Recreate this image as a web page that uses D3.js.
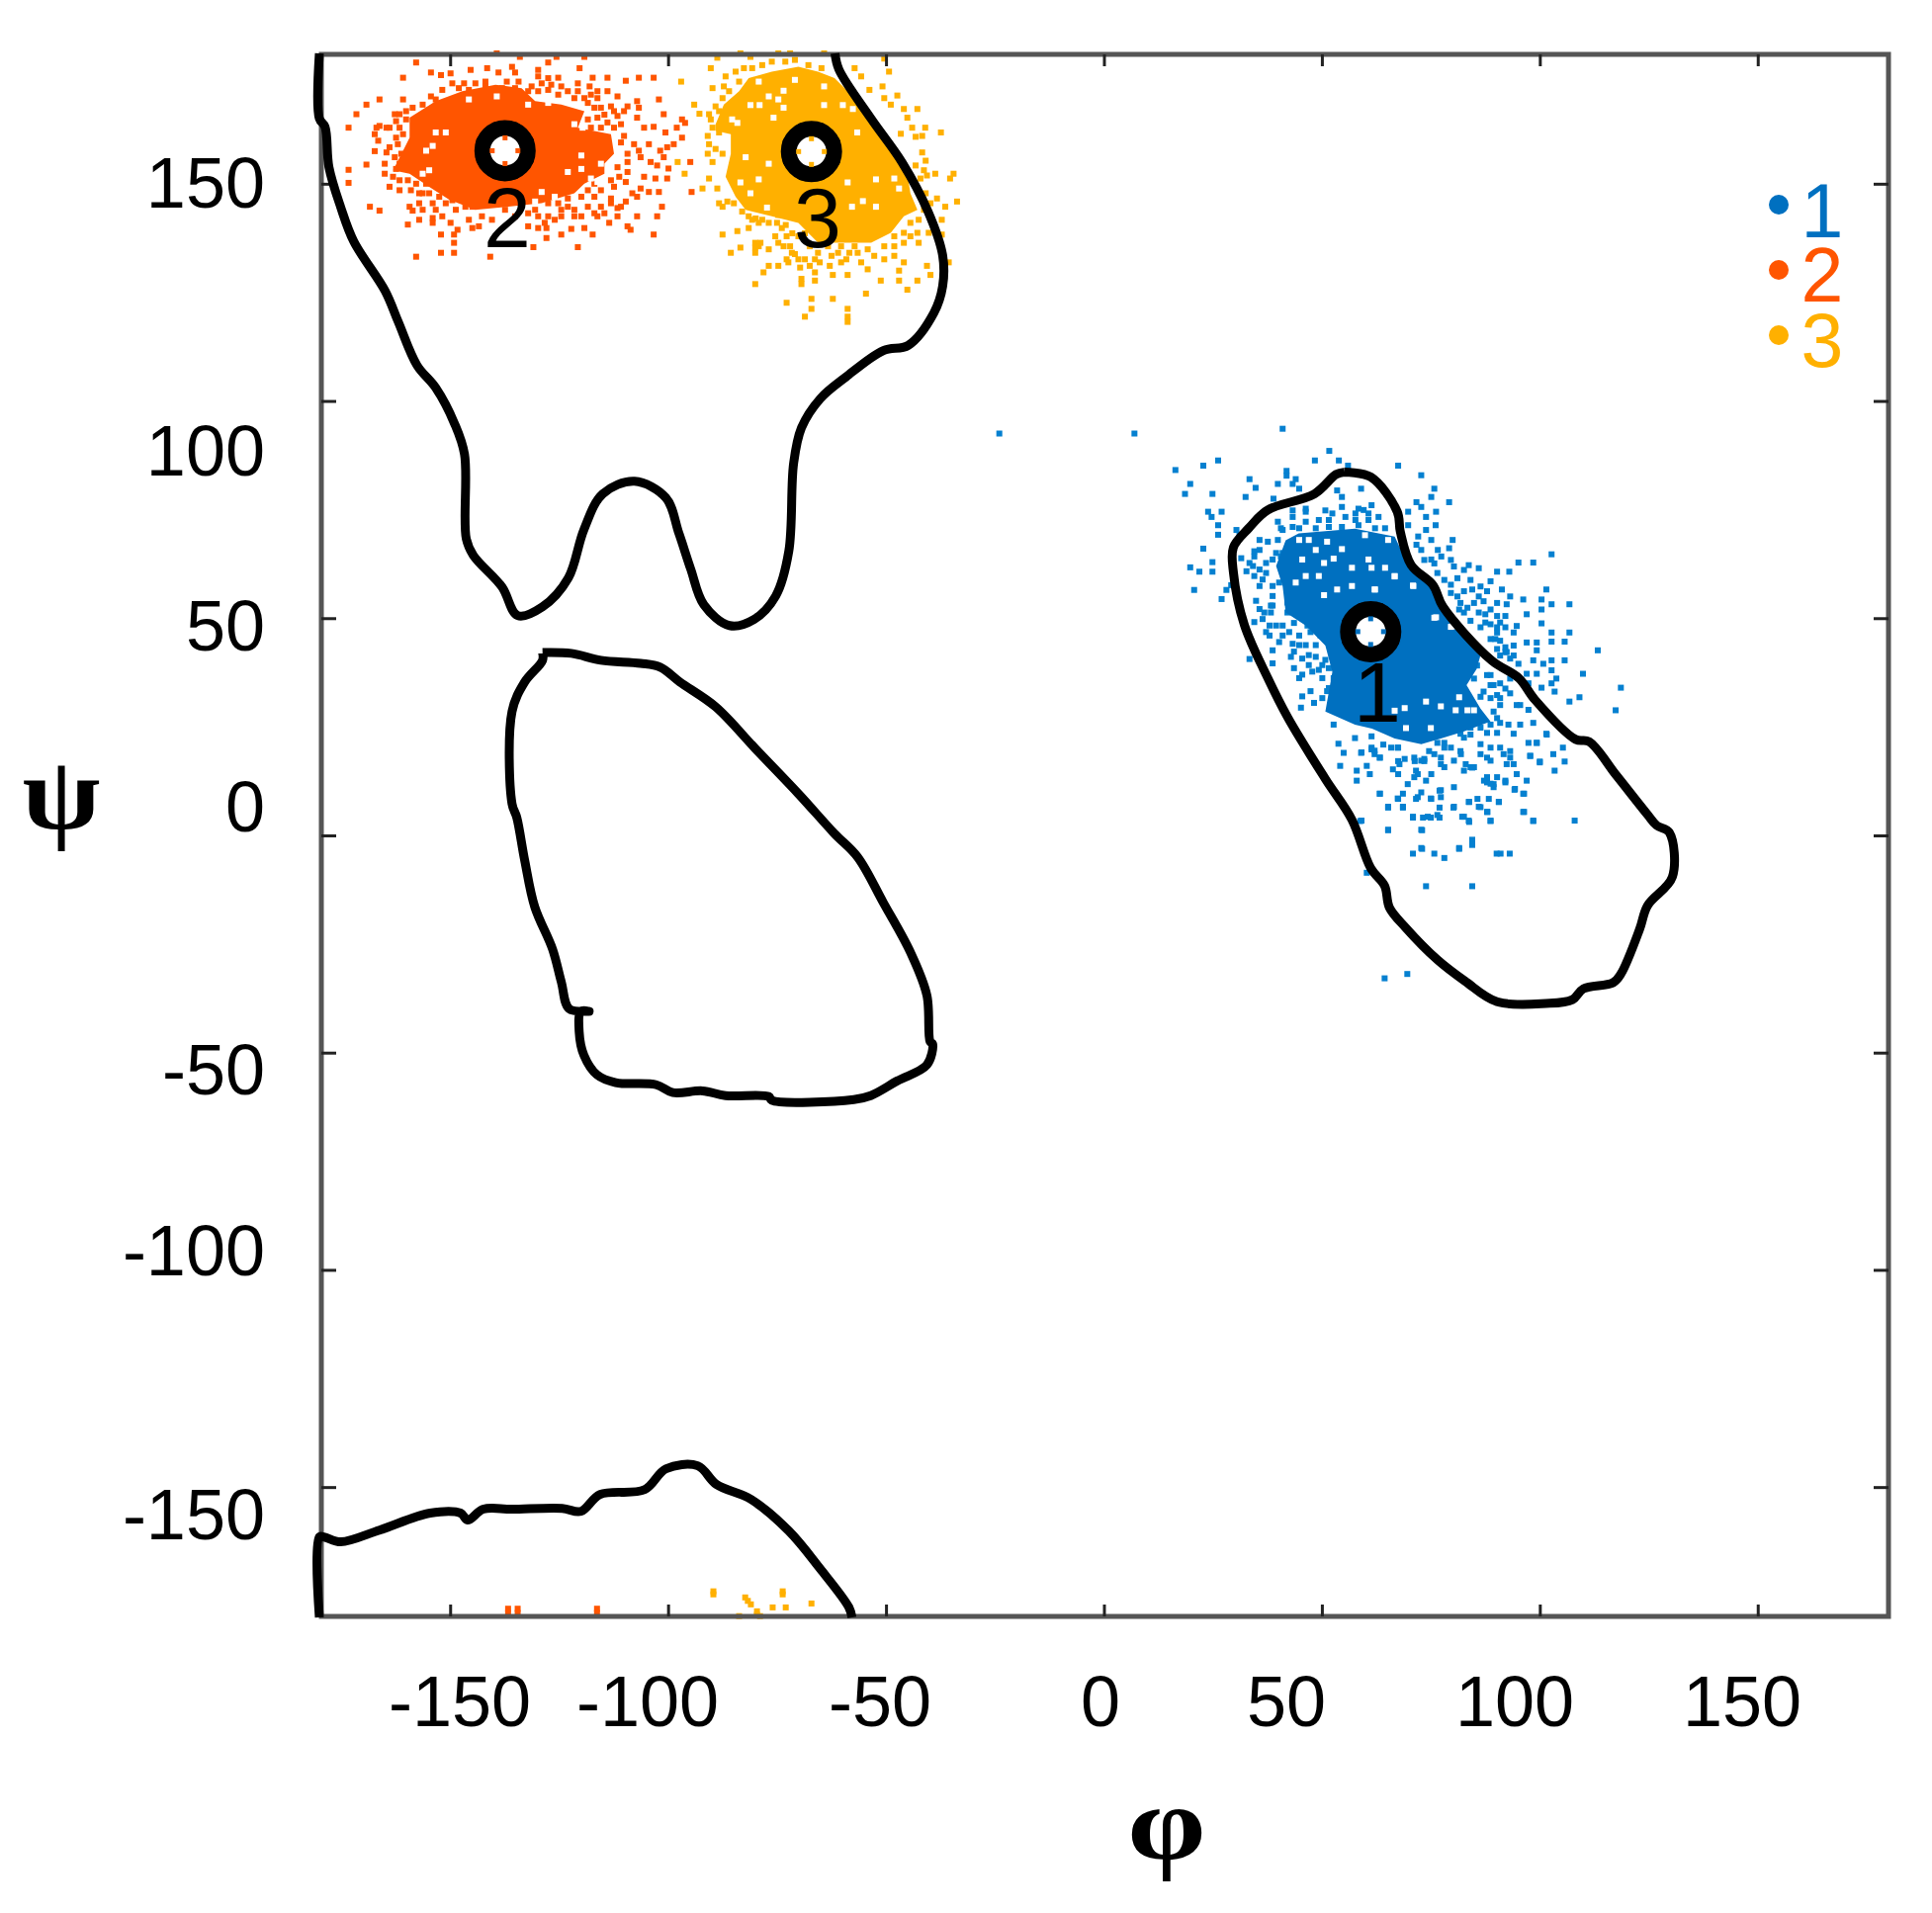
<!DOCTYPE html>
<html>
<head>
<meta charset="utf-8">
<script src="https://cdn.jsdelivr.net/npm/d3@7"></script>
<style>
  html, body { margin: 0; background: #fff; }
  svg { display: block; filter: blur(0.6px); }
  text { font-family: "Liberation Sans", Arial, sans-serif; }
</style>
</head>
<body>
<div id="chart"></div>
<script>
// Ramachandran values, all in degrees as [phi, psi]
var xTicks = [-150, -100, -50, 0, 50, 100, 150];
var yTicks = [-150, -100, -50, 0, 50, 100, 150];
var clusterNames = ['1', '2', '3'];
var clusterColors = ['#0070c0', '#ff5500', '#ffb000'];
var pointColors = ['#0580d0', '#ff5500', '#ffb000'];
var centrePhi = [61.2, -137.4, -67.1];
var centrePsi = [46.9, 157.6, 157.4];

var contourUpper = [[-180,180],[-180,165],[-178.7,163.1],[-177.8,153.8],[-175.1,144.6],[-172.1,136.7],[-164.9,125.3],[-161.9,118.2],[-157.6,108.2],[-153.3,103],[-149,94.8],[-146.7,87.7],[-146.3,68.3],[-144.7,64.5],[-138.1,57.2],[-134.5,50.6],[-128.8,52.6],[-122.9,59.2],[-119.3,70.4],[-115,78.6],[-107.7,81.5],[-100.5,77.7],[-97.5,69.5],[-94.8,61.3],[-91.8,53.1],[-85.9,48.3],[-80.3,49.7],[-75.3,55.1],[-72.3,65.4],[-71.2,85.6],[-69.4,93.8],[-65.1,100.5],[-59.2,105.5],[-50.6,111.6],[-44.9,112.8],[-39,120.3],[-37,126.4],[-37,133.5],[-40.4,143.7],[-46.3,154.9],[-53.5,165.1],[-60.8,176.3],[-61.7,180]];
var contourMiddle = [[-128.8,42.1],[-122.2,41.9],[-115.4,40.3],[-106.3,39.6],[-101.8,38.7],[-97.3,35.3],[-89.1,29.6],[-80,20],[-70.1,9.6],[-61.9,0.5],[-56.5,-5],[-50.6,-15.5],[-44.4,-26.9],[-40.6,-36.9],[-39.9,-47.4],[-39.3,-48],[-40.6,-52.8],[-47.4,-56.5],[-53.5,-59.9],[-57.4,-60.8],[-76.2,-61],[-76.9,-60.1],[-86.8,-59.9],[-92.1,-58.8],[-98.9,-59.2],[-102.7,-57.4],[-112,-56.9],[-116.3,-55.1],[-119.3,-50.6],[-120.4,-45.1],[-120,-40.5],[-118.1,-40.5],[-122.7,-39.9],[-124.5,-33.7],[-126.5,-26.2],[-130.6,-16.4],[-132.9,-5.7],[-134.7,4.1],[-135.8,7.3],[-135.8,28.5],[-132.9,35.3],[-128.8,40.3],[-128.8,42.1]];
var contourLower = [[-180,-180],[-180,-161.5],[-178.9,-161.5],[-175.1,-162.6],[-166.2,-159.9],[-154.6,-156],[-147.6,-156],[-146,-157.6],[-142.4,-155.1],[-135.8,-155.1],[-124.3,-154.9],[-120,-155.6],[-115.6,-151.7],[-105.4,-150.6],[-100.5,-145.8],[-93.2,-145.1],[-88.9,-149.4],[-81,-152.8],[-72.3,-160.1],[-65.1,-168.8],[-58.5,-177.7],[-57.8,-180]];
var contourRight = [[55.1,83.6],[61.2,82.5],[67.3,74.5],[68,69.9],[70.5,62.2],[75.5,57.6],[77.8,52.6],[88.9,40.3],[95.2,36.2],[98.9,31.2],[108.2,22.1],[111.3,21.6],[117.5,13.9],[124.7,4.8],[126.8,2.3],[129.7,0.7],[130.4,-9.6],[124.7,-16.2],[122.9,-21.6],[118.6,-31.9],[116.8,-33.9],[110,-35.3],[107.5,-37.8],[101.4,-38.7],[90.2,-38.3],[82.8,-33.5],[76.6,-28.7],[69.2,-21.2],[65.5,-16.6],[64.4,-11.6],[61.2,-7.5],[56.9,3.6],[50.8,13],[42.2,27.1],[37.6,36.2],[32.2,48.5],[29.7,60.6],[29.7,66.3],[33.3,70.8],[37.6,74.9],[48.3,78.6],[53.3,83.1],[55.1,83.6]];

// solid parts of the clusters, too dense to read single points from
var coreBlue = [[41.7,67.9],[44.7,69.5],[57.6,70.6],[66.7,68.8],[68.9,64.2],[75.1,57.4],[80.3,49.7],[86.4,41.5],[85.5,38.3],[83.2,34.6],[86.4,29.2],[88.7,26.2],[82.5,23.9],[77.3,22.3],[72.8,21],[66.7,22.3],[61.5,24.6],[57.6,25.5],[50.8,28.5],[52.4,37.6],[50.8,43.7],[46.3,48.3],[41.7,51.3],[41,57.4],[39.5,62]];
var coreRed = [[-159.3,165.2],[-153.3,169],[-147.2,171.3],[-139.6,172.8],[-133.6,172],[-130.5,169],[-124.5,168.2],[-119.2,166.7],[-120.7,162.9],[-113.1,161.4],[-112.4,156.9],[-114.6,154.6],[-114.6,152.3],[-119.2,150],[-121.5,147.8],[-129,145.5],[-136.6,144.7],[-144.2,144],[-150.2,146.3],[-154.8,149.3],[-159.3,152.3],[-163.1,153.1],[-160.8,157.6],[-159.3,160.6]];
var coreYellow = [[-89.1,163.7],[-87.2,168.2],[-83.7,171.3],[-81.5,174.3],[-76.2,175.8],[-70.1,176.9],[-65.6,175.8],[-61.8,174.3],[-58,170.5],[-53.4,166],[-48.9,159.9],[-45.1,152.3],[-44.4,147.8],[-42.8,144],[-45.9,142.5],[-48.9,138.7],[-53.4,136.4],[-59.5,136.4],[-65.6,136.4],[-70.1,141],[-76.2,142.5],[-82.2,144],[-84.5,147],[-86.8,151.6],[-85.6,156.9],[-85.6,161.4],[-89.1,162.2]];

// white specks inside the solid parts
var gapsBlue = [[66.7,59.6],[70.9,57.5],[62.1,56.6],[75.8,50.1],[79.9,48.1],[73.9,30.8],[81.5,31.8],[77.3,29.7],[80.7,28.8],[83.4,28.8],[84.9,28.8],[69.3,24.7],[75,24.7],[69,29.3],[66.7,28.7],[49.3,59.7],[56.9,57.4],[62.2,56.6],[71,57.4],[50.5,55.3],[53.5,56.6],[46.3,59.7],[44,58.2],[48.6,65.7],[54.6,65.9],[60.7,63.5],[56.9,61.6],[61.4,61.6],[64.5,61.6],[66.7,59.7],[52.7,63.7],[45.5,63.5],[50.5,62.7],[44.8,68],[47,68],[51.2,67.6],[59.9,69.1],[65.2,68],[76.2,50.2],[79.6,48]];
var gapsRed = [[-145.7,169.4],[-139.3,170.1],[-153.3,161.8],[-151,161.8],[-155.5,157.6],[-154,158.7],[-119.9,156.5],[-123,152.7],[-119.9,153.4],[-115.4,154.6],[-129,148.1],[-126,147],[-130.5,145.9],[-154.8,153.1],[-156.3,152.3],[-132.1,168.2],[-129,169.7],[-127.5,168.6],[-117.7,151.2],[-116.2,150.4],[-121.5,163.7],[-119.6,162.9]];
var gapsYellow = [[-75.8,165.2],[-73.5,167.5],[-81.1,168.1],[-79,168.1],[-76.9,170.1],[-74.7,169.4],[-73.5,171.4],[-79.2,173.5],[-70.9,173.9],[-64.2,172.4],[-64.2,168.1],[-59.9,168.1],[-57.6,167.2],[-56.6,161.8],[-82.2,156.1],[-76.9,154.6],[-79.2,151],[-83.4,150.3],[-81.1,147.8],[-58.8,150.3],[-52.3,151],[-48.1,151.2],[-47,148.9],[-55.3,146],[-57.8,144.7],[-52.3,144.7],[-77.3,144.5],[-84.1,164],[-85.3,164.8]];

var pointsBlue = [[-24,92.5],[7,92.5],[41,93.6],[16.4,84.1],[22.8,85.1],[26.2,86.3],[19.8,80.9],[18.6,78.6],[24.9,78.6],[33.4,82],[34.8,80],[32.5,77.9],[41.9,83.9],[41.9,82.8],[39.9,80.9],[44,82],[43.3,80.9],[44.8,79.8],[48.4,86.3],[51.7,88.5],[53.9,86.3],[56,85.1],[38.9,77.5],[23.9,74.5],[24.7,73.3],[27,74.5],[26.2,71.4],[26.2,69.2],[30.4,70.3],[31.1,69.2],[22.8,66],[24.9,62.9],[24.9,60.7],[19.8,61.7],[21.9,60.7],[20.7,56.5],[27,54.4],[28.1,56.5],[29.2,57.6],[33.4,40.6],[67.5,85.1],[72.8,82.9],[75.8,79.8],[75.1,77.9],[71.7,76.7],[72.8,75.6],[79.2,76.7],[76.2,74.5],[73.9,73.3],[69.8,74.5],[69.8,71.4],[76.1,71.4],[73.9,70.3],[72.1,68.8],[75.1,68],[80,68],[71.7,66.9],[72.8,65.7],[76.6,65.7],[79.2,66.1],[77.4,64.2],[75.1,63.5],
[46.3,75.2],[50.8,74.8],[53.5,79.4],[54.6,77.9],[59,79.8],[54.6,75.6],[58.4,75.2],[61.4,76],[60.7,74.1],[63,73.3],[43.3,73.3],[46.3,72.2],[49.3,72.6],[51.6,72.6],[55.4,73.3],[57.7,72.6],[39.9,72.2],[41,70.3],[43.3,71],[51.6,71],[35.7,68],[37.6,67.6],[39.9,68],[34.5,65.4],[34.5,64.2],[39.5,65],[41,65],[31.5,63.8],[32.7,60.8],[33.4,62.7],[35.7,61.2],[34.5,59.7],[37.2,60.4],[38.7,57.4],[40.2,58.2],[35.7,57.4],[38.7,55.1],[38.7,52.9],[38.3,51.3],[35.7,52.1],[36.4,49.8],[34.5,49.1],[38,48.3],[41,48.3],[43.6,48.9],[47.8,48.9],[50.1,48.9],[44.8,46],[47.4,46.8],[49.7,46],[40.2,44.5],[43.3,44.1],[46.3,43.8],[38.7,42.6],[42.9,41.1],[45.5,40.7],[48.6,41.1],[50.8,40.4],[47,39.2],[43.6,38.5],[45.5,37],[49.3,38.1],[51.6,38.5],[38.7,39.6],[52.7,36.2],[45.5,32],[47.4,33.2],[51.2,33.2],[48.2,30.5],[52.4,31.6],[54.6,29.8],[45.2,29.4],
[95.1,62.8],[98.5,62.8],[102.7,64.7],[90.2,60.7],[93,60.7],[88.7,58.5],[91.3,56.6],[93.2,55],[96.2,54.3],[101.5,56.6],[100.4,54.3],[102.7,53.2],[106.8,53.2],[100.4,52],[97,50.9],[100.4,48.8],[94.7,48.2],[102.7,46.7],[106.8,46.7],[92.1,47.9],[90.2,46.7],[94,46.7],[97,44.4],[99.3,44.4],[102.7,44.6],[105.7,44.6],[113.3,42.6],[99.3,42.6],[94,43.7],[92.1,42.2],[90.2,42.9],[98.5,40.3],[102.7,40.3],[105.7,40.3],[95.1,39.5],[100.8,39.5],[97,37.2],[99.3,37.2],[102.7,38],[109.9,37.2],[103.8,36.1],[102.7,35],[97.4,35],[100.4,34],[103.4,33.1],[118.6,34],[109.1,31.8],[106.8,30.8],[117.4,28.8],
[75.8,62.6],[79.6,63.4],[82.6,61.1],[86,61.5],[78.1,58.8],[81.1,59.2],[84.1,58.8],[86.4,57.3],[79.6,55.8],[82.6,56.2],[87.9,56.2],[90.2,53.5],[81.8,53.5],[84.9,53.5],[87.1,53.9],[92.4,53.2],[82.6,51.3],[86,51.3],[88.7,52],[90.2,50.5],[84.1,49.4],[87.5,49],[90.2,47.9],[92.1,50.5],[88.7,45.2],[90.9,44.8],[92.4,42.2],[94,41.4],
[85.6,39.1],[88.7,36.9],[90.9,35],[93.2,36.1],[84.9,36.1],[88.7,34.6],[86.4,31.9],[90.2,32.3],[93.2,32.7],[95.5,30],[90.9,30],[97.4,28.9],[98.5,25.9],[95.5,25.5],[92.8,25.5],[90.9,25.9],[101.5,23.4],[94,23.4],[90.2,23.6],[97.4,21.3],[99.3,21.3],[87.9,23.6],[105.3,20.2],[103.1,18.7],[97.8,18.3],[100,17],[105.7,17],[103.4,14.9],[93.2,19.4],[90.9,20.2],[88.7,20.2],[86.4,21],[84.1,23.2],[81.8,23.4],[78.1,20.2],[75.8,18.7],[72.8,17.2],[67.4,20.2],[62.1,19.5],[59.1,19.1],[63.3,17.9],[67.8,16.4],[71.6,14.9],[73.9,12.6],[77.3,16.4],[80.3,17.2],[84.1,15.7],[88.7,17.2],[92.4,16.4],[94.7,14.1],[97,12.6],[90.2,13.4],[87.9,12.2],[92.1,12.2],[89.4,11.1],[94.3,10.7],[96.2,9.6],[80.3,11.1],[77.3,10.4],[77.3,8.8],[72,8.8],[67.4,8.5],[63.3,9.6],[65.2,6.6],[68.6,6.6],[75,8.5],[80.3,6.6],[83.7,7.7],[86,6.6],[90.6,7.7],[87.9,5.4],[96.2,5.4],[70.9,4.3],[74.3,4.3],[76.5,4.7],[82.2,4.3],[83.7,3.4],[88.7,3.4],[98.5,3.4],[108,3.4],[59.1,3.4],[65.2,1.3],[72.8,1.3],[84.5,-1.4],[81.5,-2.9],[72.8,-2.9],
[52.7,25.5],[53.8,21.1],[57.6,22.4],[61.4,22.8],[64.1,20.9],[67.5,20.2],[55,19],[59,19],[61.4,19.8],[63.3,17.9],[54.2,16],[60.3,16],[58,14.9],[61,14.1],[58,12.6],[66.3,15.2],[67.5,17.1],[67.5,14.1],[71.3,17.1],[73.5,17.1],[72,14.1],[75.1,14.1],[69.7,11.8],[63.3,9.6],[68.6,9.6],[67.5,8.4],[72.8,9.9],[71.6,8.4],[75.1,8.4],[77,10.3],[65.2,6.4],[68.6,6.4],[77,6.4],[70.9,4.1],[73.2,4.1],[75,4.1],[77,4.1],[80.2,6.4],[82.6,4.3],[83.8,3.1],[83.8,7.7],[85.7,8.4],[86.4,6.5],[88,5.4],[88.7,3.3],[96.4,5.4],[98.5,3.3],[94.2,10.5],[96.4,9.6],[90.6,7.7],[88.3,8.4],[58.8,3.3],[65.2,1.2],[73,1.2],[84.5,-1],[84.5,-2.2],[73,-3.1],[70.9,-4.2],[75.8,-4.2],[78.1,-5.2],[81.5,-3.1],[90.1,-4.2],[91,-4.2],[93.1,-4.2],[60.3,-8.6],[73.9,-11.7],[84.5,-11.7],[64.4,-32.9],[69.6,-31.9],[87.2,12.6],[89.4,11.8],[92.1,12.6],[97.8,18.3],[100,16.8],[101.6,23.2],[99.3,21.3],[81.9,18.7],[84.5,15.6],[82.6,14.9]];
var fringeBlue = [[40.6,70.7],[42.1,66.5],[38.7,63.5],[40.6,64.2],[42.1,61.2],[44,60.4],[44.8,57.4],[42.5,58.9],[43.3,56.7],[42.1,53.6],[44,54.4],[42.1,51.3],[44.8,50.6],[39.5,48.3],[37.2,46.8],[42.5,46.8],[46.7,48.3],[41,46],[44.8,43.8],[48.6,43.8],[43.6,42.3],[47,41.5],[50.1,39.2],[47.8,37.7],[50.1,36.2],[44.8,36.2],[51.6,33.9],[50.1,31.6],[53.9,31.6],[56.1,30.1],[35.7,65.7],[37.2,62.7],[36.4,58.9],[34.2,62],[34.9,54],[36.8,51.3],[38.3,52.9],[38,46],[43.3,74.8],[46.3,74.5],[52.4,74.1],[57.7,74.1],[59.6,74.9],[60.7,72.6],[44.8,70.7],[48.6,70.7],[54.6,71],[58.4,71.4],[62.2,70.7],[64.5,70.7],
[73.5,63.4],[76.5,60.4],[80.3,61.9],[83.7,62.2],[79.6,57.7],[84.5,56.6],[81.1,55],[86,55],[83.4,52.4],[81.5,52],[87.5,50.9],[88.7,48.6],[86.4,47.9],[90.9,49],[89.8,45.2],[92.1,43.3],[90.9,41.4],[93.2,40.7],[87.9,36.9],[89.4,34.6],[92.1,33.8],[87.1,33.1],[90.9,31.6],[94.7,30],[88.7,31.6],[89.4,28.5],[88.7,25.5],[90.2,27],[84.1,24.8],[86.4,24.8],[82.6,22.5],[79.6,24],[76.5,21.3],[78.1,21.3],[79.6,20.2],[74.6,19.4],[71.2,17.9],[73.5,17.6],[69,17.6],[65.9,20.2],[61.4,20.2],[62.1,18.7],[77.3,17.9],[78.1,15.7],[81.8,19.4],[86.4,18.7],[87.9,17.9],[91.7,18.7],[93.2,17.9],[94,16.4],[87.9,13.4],[88.7,11.9],[84.9,15.7],[83,16.4],[71.2,13.4]];

var pointsRed = [[-157.8,177.9],[-139.3,180],[-134,179.2],[-125.6,179.2],[-119.2,179.2],[-127.5,177.9],[-120.3,176.6],[-145.3,176.2],[-141.5,176.6],[-138.9,175.6],[-135.8,176.9],[-135.1,175.6],[-154.4,175.6],[-152.1,175],[-149.9,175.4],[-160.8,174.4],[-129.8,176.2],[-129.8,174.7],[-127.5,174.3],[-125.2,174.4],[-117.3,174.4],[-113.9,174.4],[-109.7,173.7],[-106.7,174.4],[-103.3,174.4],[-149.5,173.1],[-146.8,173.1],[-144.2,173.1],[-141.9,173.5],[-137,173.5],[-134.3,173.5],[-131.3,172.4],[-129,173.1],[-126.8,172.8],[-124.5,172.4],[-120.7,173.1],[-118,172.4],[-151.8,171.6],[-154.4,170.1],[-153.3,169.4],[-166.2,169.4],[-160.8,169.4],[-169.2,168.2],[-171.5,166],[-162.7,166],[-173.3,162.9],[-113.9,171.3],[-111.6,170.1],[-116.2,169.7],[-121.5,169.7],[-118.4,168.6],[-107.1,169],[-102.1,169.4],[-115.4,167.5],[-113.1,167.8],[-109.3,167.8],[-106.7,167.5],[-101,166],[-111.6,165.6],[-107.1,165.2],[-118.4,164.8],[-116.2,165.2],[-113.9,164.1],[-110.8,163.7],[-96.8,164.8],[-96.1,164],[-166.2,163.3],[-164.6,162.9],[-167.3,161.4],[-166.5,159.9],[-157.8,163.3],[-155.5,162.9],[-160.1,164.8],[-161.6,162.9],[-105.5,162.9],[-103.3,163.1],[-98,162.9],[-100.6,161.8],[-96.8,160.6],[-110.1,161],[-107.8,159.1],[-104.4,159.1],[-98.7,159.1],[-100.2,158.4],[-101.8,157.6],[-110.8,159.5],[-162,159.1],[-167.3,157.5],[-164.6,157.2],[-162.7,156.1],[-161.2,156.9],[-109.3,156.9],[-106.7,157.6],[-109.3,155],[-106.3,156.1],[-104,155],[-102.5,154.2],[-101,156.1],[-94.9,155],[-99.9,153.5],[-173.3,153.2],[-169.2,154.4],[-165,154.6],[-165,152.3],[-162.4,153.4],[-109.3,152.7],[-105.5,151.6],[-102.9,151.2],[-100.2,151.2],[-111.2,151.6],[-109.7,150.4],[-173.3,150.2],[-163.9,149.3],[-161.6,148.5],[-159.7,150.8],[-157.8,150],[-155.5,150],[-157.1,147.8],[-154.8,147.8],[-159,148.5],[-106.3,148.9],[-104.4,148.1],[-108.2,147.8],[-107.1,147],[-102.1,148.1],[-94.6,148.1],[-152.5,147],[-149.5,146.2],[-147.2,146.6],[-144.9,144.7],[-157.1,145.5],[-159.3,144.7],[-168.4,144.7],[-166.2,143.8],[-158.6,143.8],[-123,146.6],[-119.9,147],[-116.9,147],[-113.1,146.6],[-109.7,145.9],[-115.4,144.7],[-114.6,143.2],[-111.6,144.4],[-101.4,144.7],[-124.5,144],[-121.5,144],[-127.5,142.5],[-130.5,144],[-119.9,142.5],[-116.2,142.5],[-111.6,142.5],[-107.1,142.5],[-102.5,142.5],[-157.1,141.7],[-154,142.1],[-154,141],[-151.8,142.5],[-149.9,141],[-145.7,141.7],[-159.7,140.6],[-143.4,140.2],[-144.9,139.8],[-148.3,139.4],[-113.5,141],[-109.3,140.2],[-108.6,139.4],[-129.8,139.8],[-127.9,139.8],[-122.2,139.6],[-119.2,139.8],[-124.5,138.3],[-117.3,138.3],[-103.3,138.3],[-127.9,137.5],[-152.1,138.3],[-149.1,138.3],[-149.1,136.4],[-130.9,135.4],[-120.7,135.4],[-157.8,133.2],[-152.1,134.1],[-149.1,134.1],[-140.8,133.2],[-136.7,-179],[-136.7,-178],[-134.5,-179],[-134.5,-178],[-116.3,-179],[-116.3,-178]];
var fringeRed = [[-166.9,162.9],[-156.3,147.8],[-154,145.5],[-151,145.5],[-148.7,144],[-146.5,144.7],[-153.3,144],[-156.3,144],[-142.7,142.5],[-140.4,141.7],[-137.4,144],[-135.1,142.5],[-132.1,143.2],[-129.8,142.5],[-127.5,145.5],[-125.2,145.5],[-123,144.7],[-118.4,144.7],[-113.1,145.5],[-110.8,144.7],[-116.9,143.2],[-121.5,142.5],[-124.5,142.5],[-126,141.7],[-128.3,141],[-132.1,140.2],[-118.4,148.5],[-115.4,148.5],[-112.4,149.3],[-116.9,150],[-113.1,150.8],[-111.6,153.8],[-148,172],[-145.7,171.6],[-141.9,172.4],[-138.1,172],[-135.1,172],[-132.1,171.3],[-129.8,171.3],[-127.5,171.6],[-125.2,170.5],[-123,171.3],[-120.7,171.3],[-119.2,169.7],[-117.7,170.5],[-116.2,171.3],[-116.9,167.5],[-114.6,165.9],[-112.4,166.7],[-110.1,166.7],[-117.7,162.9],[-112.4,162.9],[-115.4,162.9],[-161.6,166],[-160.1,166.7],[-158.6,167.5],[-156.3,168.2],[-162.4,164.4],[-163.9,162.9],[-160.8,161.4],[-162.4,160.6],[-163.9,158.4],[-161.6,154.6],[-163.1,151.6],[-161.6,150.8]];

var pointsYellow = [[-88.7,179],[-83.4,180],[-81.1,179.2],[-74.7,180],[-72,180],[-64.2,180],[-50.4,178.8],[-90.2,176.6],[-49.3,175.8],[-97,173.5],[-86.8,174.7],[-84.5,175.8],[-82.6,176.6],[-57.2,176.6],[-55.7,174.7],[-50.8,172.4],[-53.8,171.6],[-87.2,172.4],[-89.8,172],[-47.4,170.3],[-94,168.2],[-50.4,169.7],[-48.9,168.2],[-42.8,167.2],[-45.9,167.2],[-92.8,166.1],[-90.6,166],[-45.1,165.2],[-87.5,169.7],[-89.1,167.8],[-41,162.9],[-44,162.9],[-46.6,161.5],[-41.7,161],[-37.4,161.8],[-43.2,160.8],[-97.8,155],[-89.8,162.9],[-90.9,161],[-88.3,161.8],[-90.6,159.1],[-89.1,158],[-87.5,156.9],[-90.9,156.9],[-89.8,155],[-41.7,157.2],[-40.9,155.3],[-43.2,154.2],[-41.3,153.1],[-40.6,151.9],[-38.7,152.3],[-34.5,152.3],[-35.3,151.2],[-42.1,151.2],[-96.2,152.3],[-90.6,151.2],[-88.7,148.9],[-92.1,148.9],[-83.4,150],[-40.9,147.8],[-38.3,146.6],[-36.4,144.7],[-33.7,145.9],[-39.8,145.5],[-88.3,145.5],[-86.4,145.9],[-87.5,144.7],[-84.9,145.5],[-83,143.6],[-37.2,141.7],[-42.5,141.7],[-39,139.8],[-40.2,138.7],[-37.2,138.3],[-81.5,139.8],[-84.1,139.1],[-87.5,138.3],[-80.7,141.7],[-78.4,141.7],[-74.7,142.8],[-80,136.4],[-79.2,135.6],[-83.4,135.3],[-85.6,134.1],[-80,134.1],[-75.4,137.9],[-74.7,136.4],[-76.9,134.9],[-72,135.6],[-44.4,137.9],[-45.9,136.4],[-42.5,136.4],[-42.8,138.7],[-48.1,135.6],[-50.4,132.6],[-48.1,133.4],[-45.9,131.9],[-35.6,131.9],[-72.8,132.6],[-70.9,133.8],[-68.6,132.6],[-65.6,134.1],[-69.7,130.7],[-72.4,131.9],[-74.7,131.1],[-76.9,131.1],[-78.1,129.6],[-67.5,131.1],[-65.2,131.9],[-62.9,131.1],[-60.3,131.9],[-58.4,134.1],[-55.7,131.9],[-56.5,134.1],[-61,134.1],[-54.2,130.3],[-66.3,129.6],[-62.2,129],[-58.8,129],[-69.4,128.1],[-69.4,126.9],[-66.3,127.7],[-80,126.9],[-51.2,127.7],[-47,130],[-47,127.7],[-42.8,127.7],[-40.6,131.1],[-39.8,129],[-45.1,125.6],[-54.6,124.7],[-72.8,122.6],[-67.1,123.5],[-62.2,123.5],[-67.1,121.2],[-58.8,121.2],[-68.6,119.4],[-58.8,119.4],[-58.8,118.2],[-79.9,142],[-75,141],[-73,140.5],[-71.5,138.6],[-68.6,138.6],[-89.6,-174.7],[-82.3,-175.4],[-81,-177],[-79.6,-178.6],[-73.7,-174.7],[-76,-177.7],[-73,-177.7],[-67.1,-176.8],[-83.7,-179.7],[-78.9,-179.7],[-89.6,-174],[-73.7,-174],[-81.7,-176.2],[-79.6,-179.4]];
var fringeYellow = [[-80.7,176.6],[-78.4,177.3],[-76.2,178.1],[-73.1,178.1],[-70.9,178.5],[-67.8,177.3],[-64.8,176.6],[-83.7,173.5],[-86,171.3],[-88.3,166.7],[-90.2,164.8],[-60.3,175.4],[-81.5,142.5],[-79.2,141],[-76.9,141],[-73.9,139.8],[-72.8,137.9],[-70.1,137.9],[-67.5,135.6],[-63.3,135.6],[-60.3,135.6],[-57.2,135.6],[-54.2,134.9],[-50.4,135.6],[-48.1,137.9],[-45.9,138.7],[-44.4,141],[-41.3,144],[-66.3,132.6],[-62.5,133.4],[-59.1,132.6],[-52.7,133.4],[-70.1,132.6],[-71.6,134.1],[-73.5,135.6],[-80,135.3],[-78.8,136.4]];

var pointSets = [pointsBlue.concat(fringeBlue), pointsRed.concat(fringeRed), pointsYellow.concat(fringeYellow)];
var coreSets = [coreBlue, coreRed, coreYellow];
var gapSets = [gapsBlue, gapsRed, gapsYellow];
var contours = [contourUpper, contourMiddle, contourLower, contourRight];

var width = 1954, height = 1935;
var frame = {left: 325, right: 1910, top: 55, bottom: 1635};
var frameColor = '#555';

var svg = d3.select('#chart').append('svg')
  .attr('width', width)
  .attr('height', height);

var x = d3.scaleLinear().domain([-180, 180]).range([323, 1910]);
var y = d3.scaleLinear().domain([-180, 180]).range([1636, 54]);

var line = d3.line()
  .curve(d3.curveCatmullRom.alpha(0.5))
  .x(function(d) { return x(d[0]); })
  .y(function(d) { return y(d[1]); });
var coreLine = d3.line()
  .x(function(d) { return x(d[0]); })
  .y(function(d) { return y(d[1]); });

// clusters: loose points first, then the solid part and its specks
var dot = 6;
clusterNames.forEach(function(name, i) {
  var g = svg.append('g').attr('class', 'cluster-' + name);
  g.append('g').selectAll('rect').data(pointSets[i]).enter().append('rect')
    .attr('x', function(d) { return x(d[0]) - dot / 2; })
    .attr('y', function(d) { return y(d[1]) - dot / 2; })
    .attr('width', dot)
    .attr('height', dot)
    .attr('fill', pointColors[i]);
  g.append('path')
    .attr('d', coreLine(coreSets[i]) + 'Z')
    .attr('fill', clusterColors[i]);
  g.append('g').selectAll('rect').data(gapSets[i]).enter().append('rect')
    .attr('x', function(d) { return x(d[0]) - dot / 2; })
    .attr('y', function(d) { return y(d[1]) - dot / 2; })
    .attr('width', dot)
    .attr('height', dot)
    .attr('fill', '#fff');
});

// frame and inward ticks on all four sides
svg.append('rect')
  .attr('x', frame.left)
  .attr('y', frame.top)
  .attr('width', frame.right - frame.left)
  .attr('height', frame.bottom - frame.top)
  .attr('fill', 'none')
  .attr('stroke', frameColor)
  .attr('stroke-width', 5);

function styleAxis(g) {
  g.select('.domain').remove();
  g.selectAll('.tick line').attr('stroke', '#222').attr('stroke-width', 3);
  g.selectAll('.tick text').remove();
}
svg.append('g').attr('transform', 'translate(0,' + frame.bottom + ')')
  .call(d3.axisBottom(x).tickValues(xTicks).tickSize(-12)).call(styleAxis);
svg.append('g').attr('transform', 'translate(0,' + frame.top + ')')
  .call(d3.axisTop(x).tickValues(xTicks).tickSize(-12)).call(styleAxis);
svg.append('g').attr('transform', 'translate(' + frame.left + ',0)')
  .call(d3.axisLeft(y).tickValues(yTicks).tickSize(-15)).call(styleAxis);
svg.append('g').attr('transform', 'translate(' + frame.right + ',0)')
  .call(d3.axisRight(y).tickValues(yTicks).tickSize(-15)).call(styleAxis);

// contours
svg.append('g').selectAll('path').data(contours).enter().append('path')
  .attr('d', function(d) { return line(d); })
  .attr('fill', 'none')
  .attr('stroke', '#000')
  .attr('stroke-width', 9)
  .attr('stroke-linejoin', 'round');

// ring markers with their numbers
var ringBumps = d3.range(8);
clusterNames.forEach(function(name, i) {
  var cx = x(centrePhi[i]), cy = y(centrePsi[i]);
  var g = svg.append('g').attr('transform', 'translate(' + cx + ',' + cy + ')');
  g.selectAll('circle.bump').data(ringBumps).enter().append('circle')
    .attr('class', 'bump')
    .attr('cx', function(k) { return 24 * Math.cos(k * Math.PI / 4 + Math.PI / 8); })
    .attr('cy', function(k) { return 24 * Math.sin(k * Math.PI / 4 + Math.PI / 8); })
    .attr('r', 7)
    .attr('fill', '#000');
  g.append('circle').attr('r', 23).attr('fill', '#fff').attr('stroke', '#000').attr('stroke-width', 16);
  g.selectAll('rect.speck').data(ringBumps.filter(function(k) { return k % 2 === 0; })).enter().append('rect')
    .attr('class', 'speck')
    .attr('x', function(k) { return 13 * Math.cos(k * Math.PI / 4) - 2.5; })
    .attr('y', function(k) { return 13 * Math.sin(k * Math.PI / 4) - 2.5; })
    .attr('width', 5)
    .attr('height', 5)
    .attr('fill', clusterColors[i]);
});

var numberX = [1393, 513, 827];
var numberY = [730, 250, 250];
svg.append('g').selectAll('text').data(clusterNames).enter().append('text')
  .attr('x', function(d, i) { return numberX[i]; })
  .attr('y', function(d, i) { return numberY[i]; })
  .attr('text-anchor', 'middle')
  .attr('font-size', 86)
  .attr('fill', '#000')
  .text(function(d) { return d; });

// tick labels sit where the original author dragged them, not centred on ticks
var xLabelCentre = [465, 655, 890, 1113, 1301, 1532, 1762];
var yLabelBaseline = [1557, 1290, 1107, 841, 658, 481, 210];
svg.append('g').selectAll('text').data(xTicks).enter().append('text')
  .attr('x', function(d, i) { return xLabelCentre[i]; })
  .attr('y', 1746)
  .attr('text-anchor', 'middle')
  .attr('font-size', 72)
  .attr('fill', '#000')
  .text(function(d) { return d; });
svg.append('g').selectAll('text').data(yTicks).enter().append('text')
  .attr('x', 268)
  .attr('y', function(d, i) { return yLabelBaseline[i]; })
  .attr('text-anchor', 'end')
  .attr('font-size', 72)
  .attr('fill', '#000')
  .text(function(d) { return d; });

// axis titles
svg.append('text')
  .attr('transform', 'translate(1180,1880) scale(1.2,1)')
  .attr('text-anchor', 'middle')
  .attr('font-size', 106)
  .attr('font-weight', 'bold')
  .style('font-family', '"Liberation Serif", serif')
  .text('φ');
svg.append('text')
  .attr('transform', 'translate(62,838) scale(1.08,1)')
  .attr('text-anchor', 'middle')
  .attr('font-size', 106)
  .attr('font-weight', 'bold')
  .style('font-family', '"Liberation Serif", serif')
  .text('ψ');

// legend
var legendDotY = [207, 273, 339];
var legendTextY = [240, 305, 371];
var legend = svg.append('g');
legend.selectAll('circle').data(clusterNames).enter().append('circle')
  .attr('cx', 1799)
  .attr('cy', function(d, i) { return legendDotY[i]; })
  .attr('r', 10)
  .attr('fill', function(d, i) { return clusterColors[i]; });
legend.selectAll('text').data(clusterNames).enter().append('text')
  .attr('x', 1843)
  .attr('y', function(d, i) { return legendTextY[i]; })
  .attr('text-anchor', 'middle')
  .attr('font-size', 77)
  .attr('fill', function(d, i) { return clusterColors[i]; })
  .text(function(d) { return d; });
</script>
</body>
</html>
